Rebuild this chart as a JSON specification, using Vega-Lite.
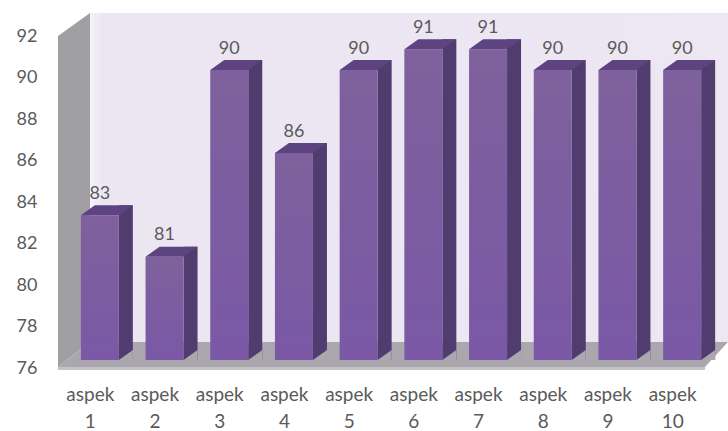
{
  "$schema": "https://vega.github.io/schema/vega-lite/v6.json",
  "autosize": "none",
  "padding": {"left": 58, "top": 34, "right": 23, "bottom": 65},
  "width": 647,
  "height": 332,
  "background": "white",
  "config": {"view": {"stroke": null}, "text": {"font": "Lato"}},
  "data": {"values": [
    {"aspek": "aspek 1", "nilai": 83},
    {"aspek": "aspek 2", "nilai": 81},
    {"aspek": "aspek 3", "nilai": 90},
    {"aspek": "aspek 4", "nilai": 86},
    {"aspek": "aspek 5", "nilai": 90},
    {"aspek": "aspek 6", "nilai": 91},
    {"aspek": "aspek 7", "nilai": 91},
    {"aspek": "aspek 8", "nilai": 90},
    {"aspek": "aspek 9", "nilai": 90},
    {"aspek": "aspek 10", "nilai": 90}
  ]},
  "encoding": {
    "x": {
      "field": "aspek",
      "type": "nominal",
      "sort": null,
      "title": null,
      "scale": {"paddingInner": 0, "paddingOuter": 0},
      "axis": {
        "labelAngle": 0,
        "labelExpr": "split(datum.label, ' ')",
        "labelFont": "Lato",
        "labelFontSize": 19,
        "labelColor": "#5a5a5a",
        "labelLineHeight": 27,
        "labelPadding": 19,
        "ticks": false,
        "domain": false,
        "grid": false,
        "zindex": 1
      }
    },
    "y": {
      "field": "nilai",
      "type": "quantitative",
      "title": null,
      "scale": {"domain": [76, 92], "nice": false},
      "axis": {
        "values": [76, 78, 80, 82, 84, 86, 88, 90, 92],
        "labelFont": "Lato",
        "labelFontSize": 18,
        "labelColor": "#5a5a5a",
        "labelPadding": 21,
        "labelOffset": 2,
        "ticks": false,
        "domain": false,
        "grid": false,
        "zindex": 1
      }
    }
  },
  "layer": [
    {
      "description": "Back wall of the box, in plot-relative units from the lower left corner",
      "data": {"values": [{"nilai": 76}]},
      "mark": {
        "type": "point", "filled": true, "opacity": 1, "size": 4, "clip": false,
        "shape": "M32 -353 L670 -353 L670 -24 L32 -24 Z",
        "color": {"x1": 0, "x2": 1, "y1": 0, "y2": 0, "gradient": "linear", "stops": [
          {"offset": 0, "color": "#f5f2f8"},
          {"offset": 0.02, "color": "#ebe6f2"},
          {"offset": 1, "color": "#ece7f2"}
        ]}
      },
      "encoding": {"x": {"value": 0}}
    },
    {
      "description": "Left wall",
      "data": {"values": [{"nilai": 76}]},
      "mark": {
        "type": "point", "filled": true, "opacity": 1, "size": 4, "clip": false,
        "shape": "M0 -330 L32 -353 L32 -24 L0 1 Z",
        "color": "#a09fa3"
      },
      "encoding": {"x": {"value": 0}}
    },
    {
      "description": "Floor",
      "data": {"values": [{"nilai": 76}]},
      "mark": {
        "type": "point", "filled": true, "opacity": 1, "size": 4, "clip": false,
        "shape": "M0 1 L32 -24 L670 -24 L647 1 Z",
        "color": "#aba7ae"
      },
      "encoding": {"x": {"value": 0}}
    },
    {
      "description": "Front edge of the floor",
      "data": {"values": [{"nilai": 76}]},
      "mark": {
        "type": "point", "filled": true, "opacity": 1, "size": 4, "clip": false,
        "shape": "M0 1 L647 1 L647 4 L0 4 Z",
        "color": "#c4c2c5"
      },
      "encoding": {"x": {"value": 0}}
    },
    {
      "description": "Side face of each bar",
      "mark": {"type": "bar", "size": 14, "xOffset": 35.5, "yOffset": -15.5, "y2Offset": -6, "color": "#513c70"},
      "encoding": {"y2": {"datum": 76}}
    },
    {
      "description": "Floor-coloured wedge that slants the foot of the side face",
      "mark": {
        "type": "point", "filled": true, "opacity": 1, "size": 4,
        "shape": "M28.5 -6 L42.5 -16 L42.5 -6 Z",
        "color": "#aba7ae"
      },
      "encoding": {"y": {"datum": 76}}
    },
    {
      "description": "Front face of each bar",
      "mark": {
        "type": "bar", "size": 38, "xOffset": 9.5, "yOffset": -5.5, "y2Offset": -6,
        "color": {"x1": 0, "x2": 0, "y1": 0, "y2": 1, "gradient": "linear", "stops": [
          {"offset": 0, "color": "#7e619c"},
          {"offset": 1, "color": "#7a58a6"}
        ]}
      },
      "encoding": {"y2": {"datum": 76}}
    },
    {
      "description": "Top face of each bar",
      "mark": {
        "type": "point", "filled": true, "opacity": 1, "size": 4,
        "shape": "M-9.5 -5.5 L4.5 -15.5 L42.5 -15.5 L28.5 -5.5 Z",
        "color": "#5d4380"
      }
    },
    {
      "description": "Value above each bar",
      "mark": {"type": "text", "font": "Lato", "fontSize": 18, "color": "#5a5a5a", "xOffset": 9.5, "yOffset": -27, "baseline": "middle"},
      "encoding": {"text": {"field": "nilai", "type": "quantitative"}}
    }
  ]
}
